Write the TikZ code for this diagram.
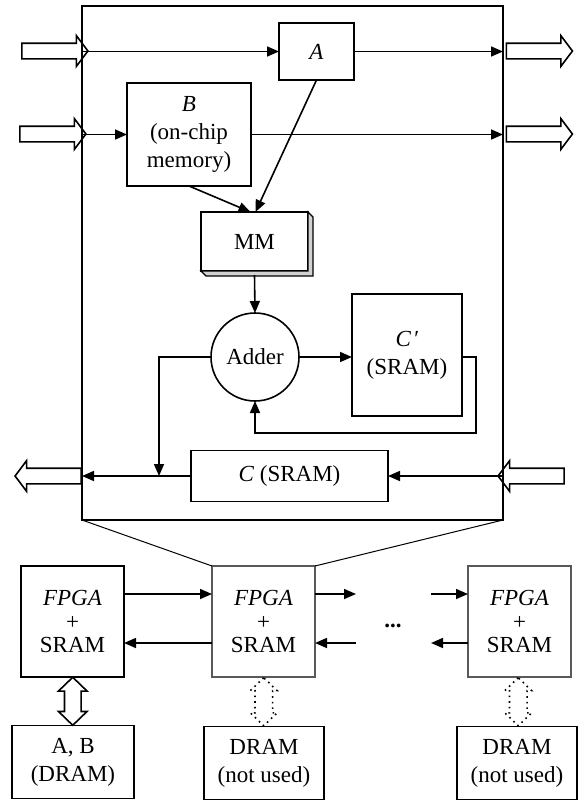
\documentclass[tikz,border=0pt]{standalone}
\usepackage{fontspec}
\setmainfont{Liberation Serif}
\usepackage{tikz}
\usetikzlibrary{arrows.meta}
\usetikzlibrary{shapes.arrows}
\usetikzlibrary{calc}

\begin{document}
\begin{tikzpicture}[x=0.5pt, y=-0.5pt,
	blk/.style={draw, line width=0.8pt, inner sep=0pt, outer sep=0pt, align=center, font=\fontsize{11.5}{14}\selectfont},
	fpga/.style={blk, minimum width=51.5pt, minimum height=55.5pt, font=\fontsize{11.5}{11.8}\selectfont},
	dram/.style={blk, minimum width=60pt, minimum height=36.5pt},
	arr/.style={line width=0.8pt, -{Triangle[length=6pt,width=5pt]}},
	fatarr/.style={draw, line width=0.8pt, single arrow, single arrow head extend=3.75pt, single arrow tip angle=106, minimum width=14.5pt, minimum height=33pt, inner sep=3.5pt},
	dblarr/.style={draw, line width=0.8pt, double arrow, double arrow head extend=3pt, double arrow tip angle=92, minimum width=13.5pt, minimum height=24pt, inner sep=3.75pt, rotate=90}]
		
		\useasboundingbox (0,0) rectangle (584,804);
		
		%chip
		\node[draw, line width=0.8pt, outer sep=0pt, minimum width=210.5pt, minimum height=257pt] (chip) at (292.5,263) {};
		\node[blk, minimum width=37.5pt, minimum height=28.5pt] (A) at (316.5,51.5) {\textit{A}};
		\node[blk, minimum width=62pt, minimum height=51.5pt] (B) at (189,134.5) {\textit{B}\\(on-chip\\memory)};
		\node[blk, minimum width=53.5pt, minimum height=29.5pt] (MM) at (254.5,241.5) {MM};
		\filldraw[line width=0.6pt, fill=gray!35] (MM.north east) -- ++(5,5) |- ($(MM.south west)+(5,5)$) -- (MM.south west) -- (MM.south east) -- cycle;
		\node[blk, circle, minimum size=44pt] (adder) at (255,357) {Adder};
		\node[blk, minimum width=55pt, minimum height=61pt] (Cp) at (407,355) {\textit{C\kern1pt′}\\(SRAM)};
		\node[blk, minimum width=98.5pt, minimum height=25.5pt] (C) at (289.5,476) {\textit{C} (SRAM)};
		
		%porte
		\node[fatarr] (inA) at (52,51) {};
		\node[fatarr] (inB) at (50,134) {};
		\node[fatarr] (outA) at (536.5,51) {};
		\node[fatarr] (outB) at (536.5,134) {};
		\node[fatarr, rotate=180] (inC) at (534,476) {};
		\node[fatarr, rotate=180] (outC) at (51,476) {};
		
		%linee
		\draw[arr] (A.west -| chip.west) -- (A.west);
		\draw[arr] (A.east) -- (A.east -| chip.east);
		\draw[arr] (B.west -| chip.west) -- (B.west);
		\draw[arr] (B.east) -- (B.east -| chip.east);
		\draw[arr] (B.south) -- ([xshift=-2pt]MM.north);
		\draw[arr] (A.south) -- ([xshift=0.5pt]MM.north);
		\draw[arr] ([yshift=-2pt]MM.south) -- (adder.north);
		\draw[arr] (adder.east) -- (adder.east -| Cp.west);
		\draw[arr] (Cp.east |- adder.east) -- ++(14,0) |- ([yshift=-16pt]adder.south) -- (adder.south);
		\coordinate (tap) at (159,476);
		\draw[arr] (adder.west) -| (tap);
		\draw[arr] (C.east -| chip.east) -- (C.east);
		\draw[arr] (C.west) -- (C.west -| chip.west);
		
		%schede
		\node[fpga] (f1) at (72.5,621.5) {\textit{FPGA}\\+\\SRAM};
		\node[fpga, draw=black!65] (f2) at (263.5,621.5) {\textit{FPGA}\\+\\SRAM};
		\node[fpga, draw=black!65] (f3) at (519.5,621.5) {\textit{FPGA}\\+\\SRAM};
		\draw[line width=0.5pt] (chip.south west) -- (f2.north west);
		\draw[line width=0.5pt] (chip.south east) -- (f2.north east);
		
		\coordinate (g1) at (356,594);
		\coordinate (g2) at (356,643);
		\coordinate (g3) at (431,594);
		\coordinate (g4) at (431,643);
		\draw[arr] (f1.east |- g1) -- (f2.west |- g1);
		\draw[arr] (f2.west |- g2) -- (f1.east |- g2);
		\draw[arr] (f2.east |- g1) -- (g1);
		\draw[arr] (g2) -- (f2.east |- g2);
		\draw[arr] (g3) -- (f3.west |- g3);
		\draw[arr] (f3.west |- g4) -- (g4);
		\node[font=\fontsize{11.5}{14}\bfseries] (dots) at (393,626) {...};
		
		%memorie
		\node[dram, minimum width=61pt] (AB) at (73,762) {A, B\\(DRAM)};
		\node[dram] (d2) at (264,763) {DRAM\\(not used)};
		\node[dram] (d3) at (517,763) {DRAM\\(not used)};
		\node[dblarr] (link1) at ($(f1.south)!0.5!(AB.north)$) {};
		\node[dblarr, dotted, minimum width=12.5pt, inner sep=4pt, double arrow head extend=2.25pt] (link2) at ($(f2.south)!0.5!(d2.north)$) {};
		\node[dblarr, dotted, minimum width=12.5pt, inner sep=4pt, double arrow head extend=2.25pt] (link3) at ($(f3.south)!0.5!(d3.north)$) {};
		
	\end{tikzpicture}
\end{document}
